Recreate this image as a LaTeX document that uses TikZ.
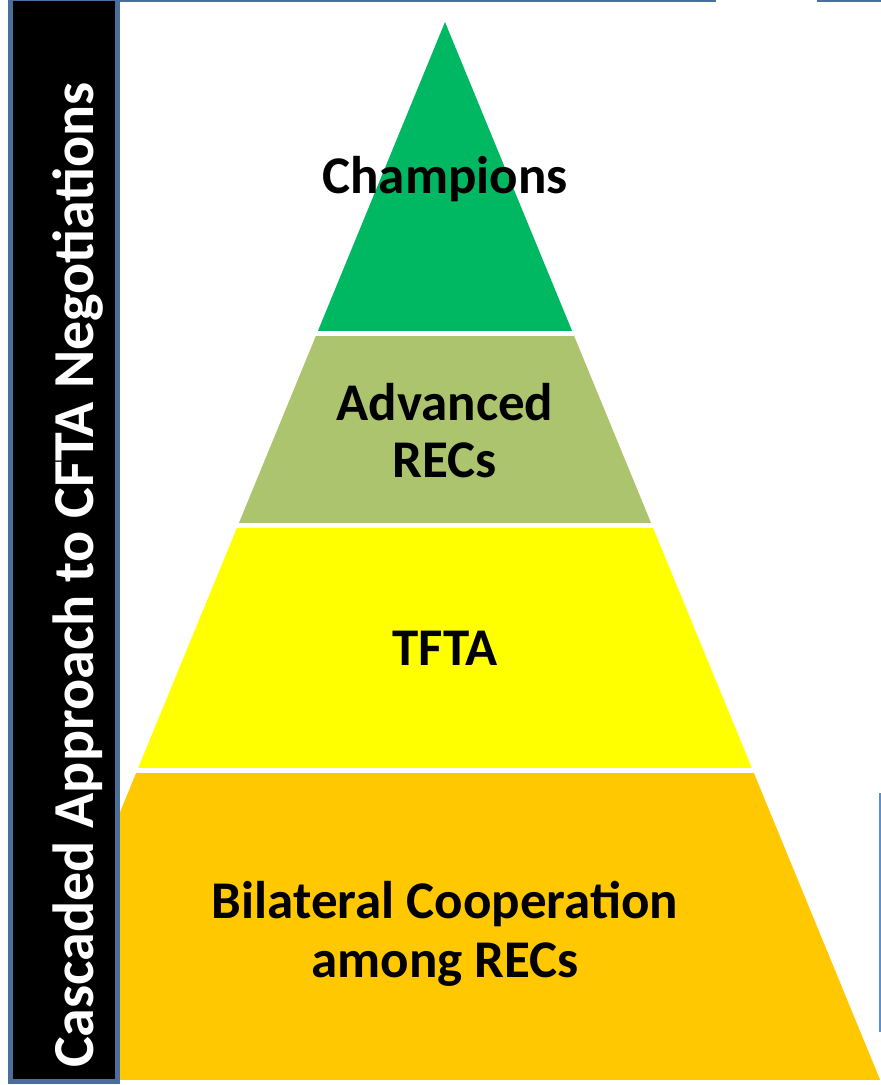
\documentclass[tikz,border=0pt]{standalone}
\usepackage{fontspec}
\setmainfont{Carlito}
\usepackage{tikz}
\usetikzlibrary{positioning,backgrounds}
\definecolor{champgreen}{HTML}{00B862}
\definecolor{advgreen}{HTML}{ABC46D}
\definecolor{tftayellow}{HTML}{FFFF00}
\definecolor{recgold}{HTML}{FFC800}
\definecolor{barblue}{HTML}{4A6F9C}
\definecolor{edgeblue}{HTML}{5B8FD0}

\begin{document}
\begin{tikzpicture}[x=1pt, y=-1pt,
    level/.style={font=\bfseries\fontsize{53}{57}\selectfont, align=center, anchor=base, inner sep=0pt}]
    \useasboundingbox (0,0) rectangle (881,1085);
    % pyramid, cut into four bands
    \begin{scope}
    \clip (445,22) -- (881,1082) -- (9,1082) -- cycle;
    \fill[champgreen] (0,0) rectangle (881,331);
    \fill[advgreen] (0,336) rectangle (881,523);
    \fill[tftayellow] (0,528) rectangle (881,768);
    \fill[recgold] (0,773) rectangle (881,1080);
    \end{scope}
    % base anchor sits on the last line
    \node[level] (champions) at (445,193) {Champions};
    \node[level] (advanced) at (445,477) {Advanced\\RECs};
    \node[level] (tfta) at (445,665) {TFTA};
    \node[level, font=\bfseries\fontsize{53}{59}\selectfont] (bilateral) at (445,977) {Bilateral Cooperation\\among RECs};
    % frame lines
    \draw[barblue, line width=2.5pt] (120,0.8) -- (716,0.8);
    \draw[barblue, line width=2.5pt] (817,0.8) -- (881,0.8);
    \draw[edgeblue, line width=1.5pt] (880,793) -- (880,1032);
    % title bar
    \draw[barblue, fill=black, line width=5pt] (10.5,-2) rectangle (117.5,1081.5);
    \node[rotate=90, anchor=base west, inner sep=0pt, text=white,
          font=\bfseries\fontsize{58}{70}\selectfont] (title) at (93,1068) {Cascaded Approach to CFTA Negotiations};
\end{tikzpicture}
\end{document}
